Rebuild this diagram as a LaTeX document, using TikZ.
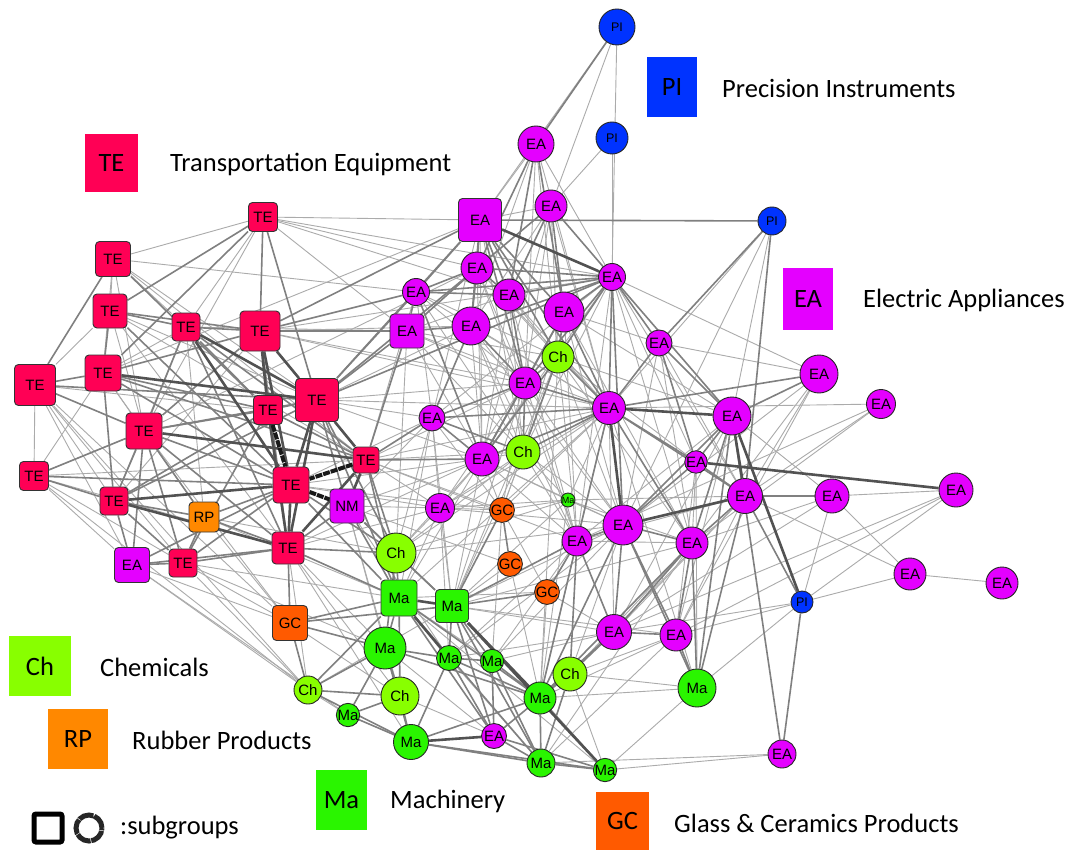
\documentclass[tikz,border=0pt]{standalone}
\usepackage{fontspec}
\setmainfont{Carlito}
\newfontfamily\nodefont{Liberation Sans}
\usetikzlibrary{backgrounds}
\definecolor{cTE}{HTML}{FF0055}
\definecolor{cEA}{HTML}{E400FF}
\definecolor{cPI}{HTML}{0033FF}
\definecolor{cCh}{HTML}{88FF00}
\definecolor{cMa}{HTML}{2AF500}
\definecolor{cRP}{HTML}{FF8800}
\definecolor{cGC}{HTML}{FF5A00}
\tikzset{
  sq/.style={rectangle, rounded corners=4pt, draw=black!80, line width=0.9pt, inner sep=0pt, font=\nodefont\fontsize{15}{16}\selectfont},
  cc/.style={circle, draw=black!85, line width=0.9pt, inner sep=0pt, font=\nodefont\fontsize{15}{16}\selectfont},
  legbox/.style={rectangle, inner sep=0pt, font=\fontsize{26.5}{28}\selectfont},
  leglab/.style={anchor=west, inner sep=0pt, font=\fontsize{26.5}{28}\selectfont},
  lt/.style={draw=black!33, line width=0.9pt},
  md/.style={draw=black!50, line width=1.6pt},
  dk/.style={draw=black!68, line width=2.6pt},
  bk/.style={draw=black!90, line width=4pt, dash pattern=on 7pt off 1pt},
}
\begin{document}
\begin{tikzpicture}[x=1pt,y=-1pt]
\useasboundingbox (0,0) rectangle (1075,850);
% ---------- TE squares
\node[sq,fill=cTE,minimum size=29pt] (t1) at (263,217) {TE};
\node[sq,fill=cTE,minimum size=35pt] (t2) at (113,259) {TE};
\node[sq,fill=cTE,minimum size=34pt] (t3) at (110,311) {TE};
\node[sq,fill=cTE,minimum size=28pt] (t4) at (186,327) {TE};
\node[sq,fill=cTE,minimum size=40pt] (t5) at (260,331) {TE};
\node[sq,fill=cTE,minimum size=36pt] (t6) at (103,373) {TE};
\node[sq,fill=cTE,minimum size=41pt] (t7) at (35,385) {TE};
\node[sq,fill=cTE,minimum size=43pt] (t8) at (317,400) {TE};
\node[sq,fill=cTE,minimum size=29pt] (t9) at (268,410) {TE};
\node[sq,fill=cTE,minimum size=36pt] (t10) at (144,431) {TE};
\node[sq,fill=cTE,minimum size=26pt] (t11) at (366,460) {TE};
\node[sq,fill=cTE,minimum size=29pt] (t12) at (34,476) {TE};
\node[sq,fill=cTE,minimum size=36pt] (t13) at (291,485) {TE};
\node[sq,fill=cTE,minimum size=28pt] (t14) at (114,501) {TE};
\node[sq,fill=cTE,minimum size=28pt] (t15) at (183,563) {TE};
\node[sq,fill=cTE,minimum size=32pt] (t16) at (288,548) {TE};
% ---------- other squares
\node[sq,fill=cEA,minimum size=43pt] (es1) at (480,220) {EA};
\node[sq,fill=cEA,minimum size=34pt] (es2) at (407,331) {EA};
\node[sq,fill=cEA,minimum size=34pt] (nm) at (347,506) {NM};
\node[sq,fill=cEA,minimum size=35pt] (es3) at (132,565) {EA};
\node[sq,fill=cRP,minimum size=30pt] (rp) at (204,517) {RP};
\node[sq,fill=cGC,minimum size=35pt] (gcs) at (290,623) {GC};
\node[sq,fill=cMa,minimum size=36pt] (ms1) at (399,598) {Ma};
\node[sq,fill=cMa,minimum size=33pt] (ms2) at (452,606) {Ma};
% ---------- PI circles
\node[cc,fill=cPI,minimum size=36pt,font=\nodefont\fontsize{12.5}{14}\selectfont] (p1) at (617,27) {PI};
\node[cc,fill=cPI,minimum size=32pt,font=\nodefont\fontsize{12.5}{14}\selectfont] (p2) at (612,138) {PI};
\node[cc,fill=cPI,minimum size=28pt,font=\nodefont\fontsize{12.5}{14}\selectfont] (p3) at (772,221) {PI};
\node[cc,fill=cPI,minimum size=22pt,font=\nodefont\fontsize{12.5}{14}\selectfont] (p4) at (802,602) {PI};
% ---------- EA circles
\node[cc,fill=cEA,minimum size=36pt] (e1) at (536,144) {EA};
\node[cc,fill=cEA,minimum size=32pt] (e2) at (551,206) {EA};
\node[cc,fill=cEA,minimum size=32pt] (e3) at (477,268) {EA};
\node[cc,fill=cEA,minimum size=27pt] (e4) at (416,292) {EA};
\node[cc,fill=cEA,minimum size=32pt] (e5) at (509,295) {EA};
\node[cc,fill=cEA,minimum size=27pt] (e6) at (612,277) {EA};
\node[cc,fill=cEA,minimum size=38pt] (e7) at (471,326) {EA};
\node[cc,fill=cEA,minimum size=40pt] (e8) at (564,312) {EA};
\node[cc,fill=cEA,minimum size=32pt] (e9) at (525,383) {EA};
\node[cc,fill=cEA,minimum size=26pt] (e10) at (432,418) {EA};
\node[cc,fill=cEA,minimum size=33pt] (e11) at (609,408) {EA};
\node[cc,fill=cEA,minimum size=34pt] (e12) at (482,459) {EA};
\node[cc,fill=cEA,minimum size=26pt] (e13) at (659,343) {EA};
\node[cc,fill=cEA,minimum size=38pt] (e14) at (819,374) {EA};
\node[cc,fill=cEA,minimum size=29pt] (e15) at (881,404) {EA};
\node[cc,fill=cEA,minimum size=38pt] (e16) at (732,416) {EA};
\node[cc,fill=cEA,minimum size=21pt] (e17) at (696,462) {EA};
\node[cc,fill=cEA,minimum size=35pt] (e18) at (745,496) {EA};
\node[cc,fill=cEA,minimum size=34pt] (e19) at (832,496) {EA};
\node[cc,fill=cEA,minimum size=34pt] (e20) at (956,490) {EA};
\node[cc,fill=cEA,minimum size=40pt] (e21) at (623,525) {EA};
\node[cc,fill=cEA,minimum size=30pt] (e22) at (577,541) {EA};
\node[cc,fill=cEA,minimum size=32pt] (e23) at (692,543) {EA};
\node[cc,fill=cEA,minimum size=32pt] (e24) at (910,574) {EA};
\node[cc,fill=cEA,minimum size=32pt] (e25) at (1002,583) {EA};
\node[cc,fill=cEA,minimum size=29pt] (e26) at (440,508) {EA};
\node[cc,fill=cEA,minimum size=35pt] (e27) at (614,632) {EA};
\node[cc,fill=cEA,minimum size=32pt] (e28) at (676,635) {EA};
\node[cc,fill=cEA,minimum size=25pt] (e29) at (494,736) {EA};
\node[cc,fill=cEA,minimum size=28pt] (e30) at (782,754) {EA};
% ---------- GC circles
\node[cc,fill=cGC,minimum size=20pt] (g1) at (502,510) {GC};
\node[cc,fill=cGC,minimum size=18pt] (g2) at (510,564) {GC};
\node[cc,fill=cGC,minimum size=22pt] (g3) at (547,592) {GC};
% ---------- Ch circles
\node[cc,fill=cCh,minimum size=32pt] (c1) at (558,357) {Ch};
\node[cc,fill=cCh,minimum size=34pt] (c2) at (523,452) {Ch};
\node[cc,fill=cCh,minimum size=40pt] (c3) at (396,553) {Ch};
\node[cc,fill=cCh,minimum size=34pt] (c4) at (570,674) {Ch};
\node[cc,fill=cCh,minimum size=28pt] (c5) at (308,690) {Ch};
\node[cc,fill=cCh,minimum size=38pt] (c6) at (400,696) {Ch};
% ---------- Ma circles
\node[cc,fill=cMa,minimum size=42pt] (m1) at (385,648) {Ma};
\node[cc,fill=cMa,minimum size=25pt] (m2) at (449,658) {Ma};
\node[cc,fill=cMa,minimum size=23pt] (m3) at (492,661) {Ma};
\node[cc,fill=cMa,minimum size=32pt] (m4) at (540,698) {Ma};
\node[cc,fill=cMa,minimum size=18pt] (m5) at (348,715) {Ma};
\node[cc,fill=cMa,minimum size=35pt] (m6) at (411,742) {Ma};
\node[cc,fill=cMa,minimum size=28pt] (m7) at (541,763) {Ma};
\node[cc,fill=cMa,minimum size=18pt] (m8) at (605,770) {Ma};
\node[cc,fill=cMa,minimum size=38pt] (m9) at (697,688) {Ma};
\node[cc,fill=cMa,minimum size=10pt,font=\nodefont\fontsize{9}{10}\selectfont] (m10) at (568,500) {Ma};
% ---------- edges
\begin{scope}[on background layer]
\fill[white] (0,0) rectangle (1075,850);
\foreach \a/\b in {t1/t2,t1/t4,t1/t10,t1/e6,t1/e3,t1/es2,t2/t3,t2/t4,t2/t8,t2/t6,t2/t11,t2/t10,
 t3/t8,t3/t7,t3/t10,t3/t16,t3/t11,t4/t6,t4/t14,t4/es2,t4/rp,t5/t14,t5/e6,t5/e7,t6/t10,t6/t12,t6/rp,
 t7/t14,t7/t9,t7/t12,t7/t15,t7/gcs,t7/es3,t8/e11,t8/e10,t8/e9,t8/e12,t10/t12,t10/e3,t10/gcs,
 t11/e11,t11/e9,t11/e4,t11/e22,t11/g1,t12/t11,t12/t16,t12/c5,t12/es3,t12/t15,gcs/c6,gcs/es3,
 es3/c5,es3/m5,c5/t7,c5/m5,c5/ms2,es1/p1,es1/t1,es1/t6,es1/e2,es1/e1,e1/e6,e1/e11,e1/e9,
 e2/e11,e2/e12,e2/c1,e2/p2,e3/e11,e3/e9,e4/e11,e4/e10,e5/e11,e5/e12,e6/e14,e6/e22,e6/e10,e6/e12,e6/c2,
 e7/e11,e7/c2,c1/e22,c1/e21,c1/es2,e9/g1,e10/e26,e10/c3,e11/e15,e11/e27,e11/e26,e11/g1,e11/c3,e11/ms1,
 e11/m4,e11/m9,p3/e16,p3/e21,p3/e11,e14/e18,e14/e23,e14/e21,e15/e18,e15/e22,e15/e23,e16/e19,
 e19/e20,e19/e23,e19/p4,e19/e27,e19/e24,e20/p4,e20/e28,e20/e27,e24/e25,e24/p4,e24/e18,e18/e28,e18/e27,
 p4/e27,p4/e28,p4/m9,e21/c4,e21/e26,e23/c4,e23/m7,e27/m3,e28/m7,e28/m4,m9/m8,m9/m4,m9/c4,
 e30/m7,e30/m8,m10/e11,m10/e12,m10/ms2,m10/c3,m10/e23,m10/e18,m10/e21,m10/m4,m10/e26,m10/g1,
 g1/e26,g3/e22,c3/e26,ms1/m8,ms1/m3,m1/e29,m2/m7,c4/m8,c6/e29,p1/e2,p2/e6,p1/e6,
 es2/e9,es2/e11,es2/e12,es2/c2,es2/e5,es2/e3,e12/e26,e12/g1,e12/c3,e12/ms1,e12/ms2,e12/e22,e12/e21,
 c2/e26,c2/g1,c2/e22,c2/ms2,c2/c3,nm/e12,nm/e10,nm/e26,nm/m2,nm/m6,e26/ms1,e26/ms2,e26/m2,
 g1/g3,g1/m3,t13/e10,t13/e12,t13/e26,t16/e26,t16/c6,t16/m1,t16/m6,t16/c5,t15/gcs,t15/c5,t15/ms1,t15/m1,
 rp/ms1,rp/c3,rp/gcs,e21/ms2,e21/c3,e21/m2,e21/m3,e27/ms2,e27/m2,e27/g3,e28/ms2,e28/c4,e23/ms2,e23/e22,
 e9/e21,e9/e22,e13/e21,e13/e23,e7/e21,e7/e22,e5/e22,e3/e22,c1/m4,c1/e23,c1/ms2,e8/e21,e8/e23,e8/e22,
 e17/e23,e17/e28,e17/m9,t5/e9,t5/e11,t8/e7,t1/e5,t2/e4,
 es1/e12,es1/c2,es1/e10,e1/e7,e1/c1,e2/e9,e2/e7,e3/c1,e3/e12,e4/e9,e4/c1,e5/c1,e5/c2,e6/e23,e6/e18,
 e6/e17,e8/e16,e8/e13,e8/c2,c1/e16,c1/e17,c1/g1,e9/e26,e9/ms2,e10/ms1,e10/g1,e12/c2,c2/e21,c2/m10,
 e13/e18,e13/e14,e16/e22,e16/e28,e16/e27,e18/e22,e18/c4,e14/e28,e22/m2,e22/m3,g2/ms2,g2/m4,g3/m4,
 g3/ms1,t11/e26,t11/c2,t13/g1,t16/e12,nm/g2,nm/c6,es2/c3,e10/ms2,e7/e12,e4/c2}
 \draw[lt] (\a) -- (\b);
\foreach \a/\b in {t1/t3,t1/t5,t1/t8,t1/t6,t2/t7,t2/t9,t3/t4,t3/t5,t3/t6,t3/t13,
 t4/t5,t4/t9,t4/t11,t4/t10,t4/t16,t5/t16,t5/t10,t5/t11,t5/es2,t5/es1,t5/e4,t5/t6,
 t6/t7,t6/t9,t6/t13,t6/t11,t6/t14,t7/t10,t7/t8,t8/t9,t8/t10,t8/es2,t8/e4,t8/e3,t8/es1,t8/e6,t8/nm,t8/t14,t8/c3,t8/ms1,
 t9/t10,t9/t11,t9/t14,t9/t15,t10/t13,t10/t14,t10/t15,t10/t16,t10/rp,t10/es3,
 t11/e10,t11/c3,t11/ms1,t11/e12,t11/es2,t12/t14,t12/t13,t12/t10,
 t13/rp,t13/es3,t13/t15,t13/c3,t13/ms1,t14/es3,t14/t15,t14/rp,t15/t16,t15/es3,t15/rp,
 t16/gcs,t16/ms1,t16/c3,t16/nm,t16/es3,t16/rp,nm/ms1,nm/c3,nm/ms2,
 gcs/c5,gcs/ms1,gcs/m1,gcs/ms2,c5/ms1,c5/m1,c5/c6,c5/m6,m5/c6,m5/m6,m5/m1,
 es1/e3,es1/e5,es1/e7,es1/e8,es1/p3,es1/e4,es1/c1,es1/e9,es1/e11,
 e1/p1,e1/e5,e1/e3,e1/e8,e2/e6,e2/e8,e2/e5,e2/e3,
 e3/e4,e3/e5,e3/e6,e3/e7,e3/es2,e4/es2,e4/e6,e4/e12,e4/e5,e5/e6,e5/e9,
 e6/e8,e6/c1,e6/e11,e6/e13,e6/e16,e6/e21,e6/e9,e6/e7,e7/es2,e7/e9,e7/e10,
 e8/c1,e8/e11,e8/e12,e8/e9,c1/e11,c1/e9,c1/e12,c1/c2,e9/e11,e9/c2,e9/e12,e9/e10,
 e10/e12,e10/c2,e10/e11,e11/e14,e11/e13,e11/e18,e11/e23,e11/e22,e11/e12,e11/c2,e11/e17,
 e13/p3,e13/e16,e13/e17,p3/e18,e14/e16,e16/e17,e16/e21,e16/e23,e16/m9,e16/e30,
 e17/e18,e17/e21,e18/e19,e18/e23,e18/p4,e18/m9,e21/e22,e21/e23,e21/e27,e21/e28,e21/m9,e21/m4,
 e22/e27,e22/c4,e22/m4,e22/g3,e23/e27,e23/e28,e23/m9,e23/m4,p4/e30,e27/e28,e27/c4,e27/m4,e28/m9,
 g1/g2,c3/ms1,c3/ms2,c3/m1,ms1/m1,ms1/m4,ms1/m7,ms1/c6,ms1/e29,
 ms2/m2,ms2/m3,ms2/m7,ms2/e29,ms2/g1,ms2/g3,ms2/e22,m1/c6,m1/m6,m1/m2,m1/m4,
 m2/m3,m2/m6,m2/m4,m2/e29,m3/m4,m3/e29,m3/m7,m4/m7,m4/m8,m4/e29,m4/c4,m4/m6,
 c4/m7,c6/m6,m6/m7,m6/m8,e29/m7,e29/m8,m7/m8}
 \draw[md] (\a) -- (\b);
\foreach \a/\b in {t4/t8,t4/t13,t5/t9,t5/t8,t5/t13,t6/t8,t8/t11,t8/t13,t8/t16,t9/t16,
 t10/t11,t11/t16,t11/nm,t13/t16,t13/t14,t14/t16,es1/e6,e11/e16,e11/e21,e16/e18,e16/p4,
 e17/e20,e18/e21,ms1/ms2,ms1/m2,ms2/m4,ms2/m8,m6/e29}
 \draw[dk] (\a) -- (\b);
\foreach \a/\b in {t9/t13,t11/t13,t13/nm}
 \draw[bk] (\a) -- (\b);
\end{scope}
% ---------- legend
\node[legbox,fill=cTE,minimum width=53pt,minimum height=58pt] (lTE) at (111.5,163) {TE};
\node[leglab] (lTEt) at (170,164) {Transportation Equipment};
\node[legbox,fill=cPI,minimum width=50pt,minimum height=60pt] (lPI) at (672,87) {PI};
\node[leglab] (lPIt) at (722,88) {Precision Instruments};
\node[legbox,fill=cEA,minimum width=50pt,minimum height=62pt] (lEA) at (808,299) {EA};
\node[leglab] (lEAt) at (863,300) {Electric Appliances};
\node[legbox,fill=cCh,minimum width=62pt,minimum height=60pt] (lCh) at (40,666) {Ch};
\node[leglab] (lCht) at (100,667) {Chemicals};
\node[legbox,fill=cRP,minimum width=60pt,minimum height=60pt] (lRP) at (78,739) {RP};
\node[leglab] (lRPt) at (132,740) {Rubber Products};
\node[legbox,fill=cMa,minimum width=51pt,minimum height=60pt] (lMa) at (341.5,800) {Ma};
\node[leglab] (lMat) at (390,801) {Machinery};
\node[legbox,fill=cGC,minimum width=53pt,minimum height=58pt] (lGC) at (622.5,821) {GC};
\node[leglab] (lGCt) at (674,823) {Glass \& Ceramics Products};
\node[rectangle,draw=black,line width=5pt,rounded corners=2pt,minimum size=28pt,inner sep=0pt] (lsq) at (48,828) {};
\node[circle,draw=black!85,line width=5pt,dash pattern=on 15pt off 0.8pt,minimum size=26pt,inner sep=0pt] (lci) at (89,828) {};
\node[leglab] (lsub) at (120,828) {:subgroups};
\end{tikzpicture}
\end{document}
